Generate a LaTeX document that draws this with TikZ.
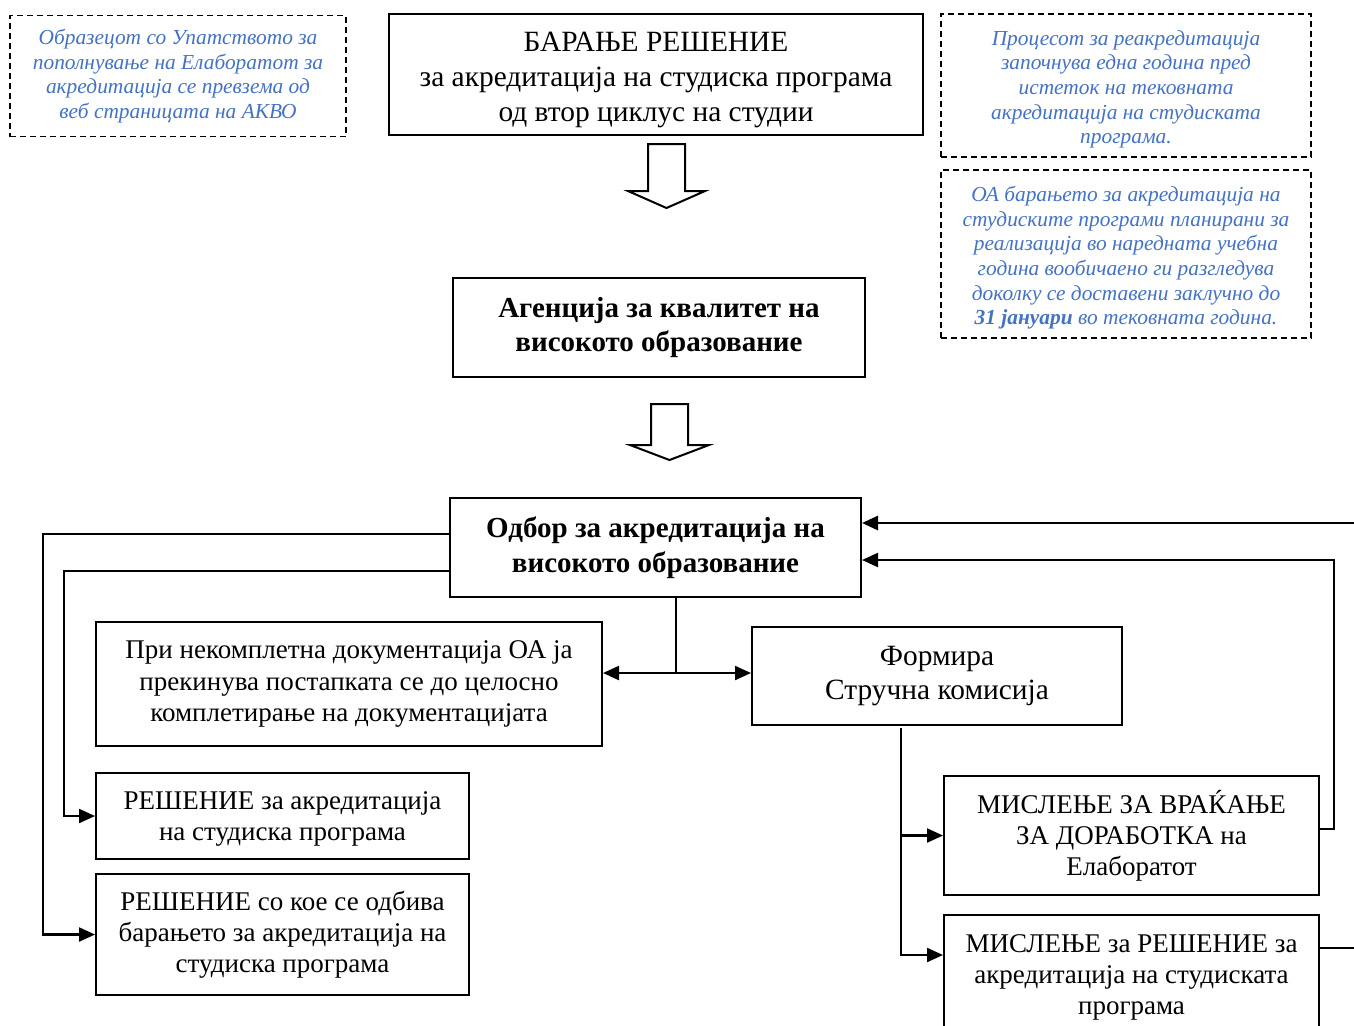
\documentclass[tikz,border=0pt]{standalone}
\usepackage{fontspec}
\setmainfont{Liberation Serif}
\usetikzlibrary{arrows.meta}
\definecolor{noteblue}{RGB}{68,114,196}
\begin{document}
\begin{tikzpicture}[x=0.5pt,y=-0.5pt,
    box/.style={draw,line width=1pt,inner sep=0pt,align=center,
      font=\fontsize{13.5}{15.6}\selectfont},
    bigbox/.style={box,font=\fontsize{14.7}{17.3}\selectfont},
    note/.style={draw,dashed,dash pattern=on 3pt off 2pt,line width=0.9pt,
      inner sep=0pt,align=center,text=noteblue,
      font=\fontsize{10.7}{12.35}\selectfont\itshape},
    conn/.style={line width=1.1pt,-{Triangle[length=8pt,width=7pt]}},
    blockarrow/.style={line width=1pt,fill=white,line join=miter}]
  \clip (0,0) rectangle (1354,1025);
  \fill[white] (0,0) rectangle (1354,1025);
  % top row (sizes in pt = half the pixel size)
  \node[note,minimum width=168pt,minimum height=60.5pt] (note1) at (178,76)
  {Образецот со Упатството за\\пополнување на Елаборатот за\\
    акредитација се превзема од\\веб страницата на АКВО};
  \node[bigbox,minimum width=267pt,minimum height=60.5pt] (req) at (656,74.5)
  {\rule{0pt}{15.2pt}БАРАЊЕ РЕШЕНИЕ\\за акредитација на студиска програма\\од втор циклус на студии};
  \node[note,minimum width=185pt,minimum height=71.5pt] (note2) at (1126,85.5)
  {\rule{0pt}{11.3pt}Процесот за реакредитација\\започнува една година пред\\истеток на тековната\\
    акредитација на студиската\\програма.};
  \node[note,minimum width=185pt,minimum height=84pt] (note3) at (1126,254)
  {\rule{0pt}{11.5pt}ОА барањето за акредитација на\\студиските програми планирани за\\
    реализација во наредната учебна\\година вообичаено ги разгледува\\
    доколку се доставени заклучно до\\\textbf{31 јануари} во тековната година.};
  % agency and board
  \node[bigbox,font=\fontsize{14.5}{17.2}\selectfont\bfseries,
    minimum width=206pt,minimum height=49.5pt] (agency) at (659,327.5)
  {Агенција за квалитет на\\високото образование};
  \node[bigbox,font=\fontsize{14.5}{17.2}\selectfont\bfseries,
    minimum width=205.5pt,minimum height=49.5pt] (board) at (655.5,547.5)
  {Одбор за акредитација на\\високото образование};
  \coordinate (a1) at (666.5,144);
  \coordinate (a2) at (669.5,404);
  \draw[blockarrow] (a1) ++(-18.5,0) -- ++(0,47) -- ++(-20,0) -- ++(38.5,17)
  -- ++(38.5,-17) -- ++(-20,0) -- ++(0,-47) -- cycle;
  \draw[blockarrow] (a2) ++(-18.5,0) -- ++(0,41) -- ++(-21,0) -- ++(39.5,15)
  -- ++(39.5,-15) -- ++(-21,0) -- ++(0,-41) -- cycle;
  % outcomes
  \node[box,minimum width=253pt,minimum height=62pt] (incomplete) at (349,684)
  {При некомплетна документација ОА ја\\прекинува постапката се до целосно\\
    комплетирање на документацијата};
  \node[bigbox,minimum width=185pt,minimum height=49pt] (forms) at (937,676)
  {Формира\\Стручна комисија};
  \node[box,minimum width=186.5pt,minimum height=43pt] (accept) at (282.5,816)
  {\rule{0pt}{12.2pt}РЕШЕНИЕ за акредитација\\на студиска програма};
  \node[box,minimum width=186.5pt,minimum height=60.5pt] (reject) at (282.5,934.5)
  {РЕШЕНИЕ со кое се одбива\\барањето за акредитација на\\студиска програма};
  \node[box,minimum width=187.5pt,minimum height=59.5pt] (revise) at (1131.5,835.5)
  {МИСЛЕЊЕ ЗА ВРАЌАЊЕ\\ЗА ДОРАБОТКА на\\Елаборатот};
  \node[box,minimum width=187.5pt,minimum height=62.5pt] (opinion) at (1131.5,977.5)
  {МИСЛЕЊЕ за РЕШЕНИЕ за\\акредитација на студиската\\програма};
  % connectors
  \coordinate (l1) at (43,534);
  \coordinate (l2) at (64,571);
  \coordinate (m1) at (676,673);
  \coordinate (r1) at (901,728);
  \coordinate (r2) at (901,955);
  \coordinate (r3) at (1334,829);
  \coordinate (r4) at (1334,560);
  \coordinate (r5) at (1380,948);
  \coordinate (r6) at (1380,523);
  \draw[conn] (board.west |- l1) -- (l1) |- (reject.west);
  \draw[conn] (board.west |- l2) -- (l2) |- (accept.west);
  \draw[line width=1.1pt] (board.south -| m1) -- (m1);
  \draw[conn,{Triangle[length=8pt,width=7pt]}-{Triangle[length=8pt,width=7pt]}]
  (incomplete.east |- m1) -- (forms.west |- m1);
  \draw[conn] (r1) |- (revise.west);
  \draw[conn] (r1) -- (r2) -- (opinion.west |- r2);
  \draw[conn] (revise.east |- r3) -- (r3) -- (r4) -- (board.east |- r4);
  \draw[conn,line width=1.4pt] (opinion.east |- r5) -- (r5) -- (r6) -- (board.east |- r6);
\end{tikzpicture}
\end{document}
